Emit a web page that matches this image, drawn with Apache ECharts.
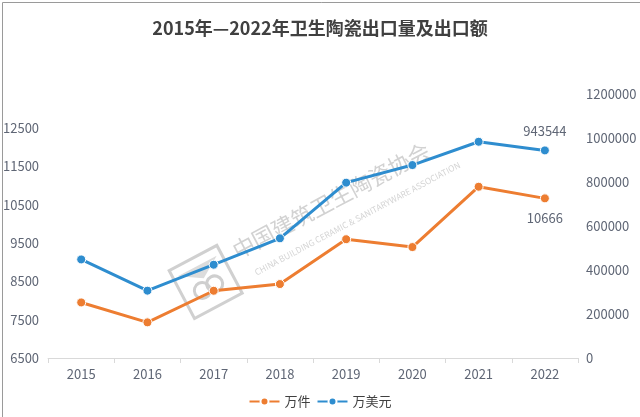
<!DOCTYPE html>
<html>
<head>
<meta charset="utf-8">
<script src="https://cdn.jsdelivr.net/npm/echarts@6/dist/echarts.min.js"></script>
<style>
html,body{margin:0;padding:0;background:#fff;}
#chart{width:640px;height:417px;}
</style>
</head>
<body>
<div id="chart"></div>
<script>
var title = '2015年—2022年卫生陶瓷出口量及出口额';
var years = ['2015','2016','2017','2018','2019','2020','2021','2022'];
var volumeName = '万件';
var valueName = '万美元';
var volume = [7950, 7430, 8255, 8430, 9600, 9395, 10970, 10666];
var amount = [448000, 306000, 424000, 544000, 797000, 877000, 983000, 943544];
var leftTicks = {min: 6500, interval: 1000};
var rightTicks = {min: 0, max: 1200000, interval: 200000};

var font = '"Noto Sans CJK SC", "Noto Sans", sans-serif';
var orange = '#ED7D31';
var blue = '#2E8DCF';
var labelColor = '#5f6675';
var plain = function (v) { return String(v); };

function withLastLabel(arr, pos) {
  return arr.map(function (v, i) {
    if (i === arr.length - 1) {
      return {value: v, label: {show: true, position: pos, distance: 8, color: labelColor, fontSize: 13, fontFamily: font, formatter: function (p) { return String(p.value); }}};
    }
    return v;
  });
}

var chart = echarts.init(document.getElementById('chart'));
chart.setOption({
  animation: false,
  backgroundColor: '#fff',
  title: {
    text: title, left: 'center', top: 14,
    textStyle: {fontFamily: font, fontSize: 18, fontWeight: 'bold', color: '#404040'}
  },
  legend: {
    bottom: 4, left: 'center', itemWidth: 30, itemHeight: 10, itemGap: 6,
    textStyle: {fontFamily: font, fontSize: 13, color: '#404040'},
    data: [volumeName, valueName]
  },
  grid: {left: 47, right: 62, top: 94, bottom: 59},
  xAxis: {
    type: 'category', data: years, boundaryGap: true,
    axisLine: {lineStyle: {color: '#d9d9d9'}},
    axisTick: {show: true, lineStyle: {color: '#d9d9d9'}},
    axisLabel: {color: labelColor, fontSize: 13, fontFamily: font, margin: 10}
  },
  yAxis: [{
    type: 'value', position: 'left', min: leftTicks.min, max: 13390, interval: leftTicks.interval,
    splitLine: {show: false}, axisLine: {show: false}, axisTick: {show: false},
    axisLabel: {color: labelColor, fontSize: 13, fontFamily: font, margin: 9, showMaxLabel: false, formatter: plain}
  }, {
    type: 'value', position: 'right', min: rightTicks.min, max: rightTicks.max, interval: rightTicks.interval,
    splitLine: {show: false}, axisLine: {show: false}, axisTick: {show: false},
    axisLabel: {color: labelColor, fontSize: 13, fontFamily: font, margin: 8, formatter: plain}
  }],
  graphic: [{
    type: 'rect', left: 0, top: 0, z: 100,
    shape: {width: 639, height: 416},
    style: {fill: 'none', stroke: '#9a9a9a', lineWidth: 1}
  }, {
    type: 'group', x: 340, y: 215, rotation: 28 * Math.PI / 180, z: 0,
    children: [{
      type: 'text', x: -111, y: -28,
      style: {text: '中国建筑卫生陶瓷协会', fill: '#d2d2d2', fontSize: 22, fontFamily: font, letterSpacing: 4}
    }, {
      type: 'text', x: -102, y: 7,
      style: {text: 'CHINA BUILDING CERAMIC & SANITARYWARE ASSOCIATION', fill: '#d4d4d4', fontSize: 8.5, fontFamily: font}
    }, {
      type: 'rect', x: -177, y: -31, shape: {width: 54, height: 54},
      style: {fill: 'none', stroke: '#d0d0d0', lineWidth: 3}
    }, {
      type: 'polygon', shape: {points: [[-172, -22], [-128, -22], [-150, -8]]},
      style: {fill: '#dcdcdc'}
    }, {
      type: 'circle', shape: {cx: -157, cy: 2, r: 8}, style: {fill: 'none', stroke: '#cfcfcf', lineWidth: 3}
    }, {
      type: 'circle', shape: {cx: -143, cy: 2, r: 8}, style: {fill: 'none', stroke: '#cfcfcf', lineWidth: 3}
    }]
  }],
  series: [{
    name: volumeName, type: 'line', yAxisIndex: 0,
    data: withLastLabel(volume, 'bottom'),
    symbol: 'circle', symbolSize: 9,
    lineStyle: {color: orange, width: 3},
    itemStyle: {color: orange, borderColor: '#fff', borderWidth: 1}
  }, {
    name: valueName, type: 'line', yAxisIndex: 1,
    data: withLastLabel(amount, 'top'),
    symbol: 'circle', symbolSize: 9,
    lineStyle: {color: blue, width: 3},
    itemStyle: {color: blue, borderColor: '#fff', borderWidth: 1}
  }]
});
</script>
</body>
</html>
